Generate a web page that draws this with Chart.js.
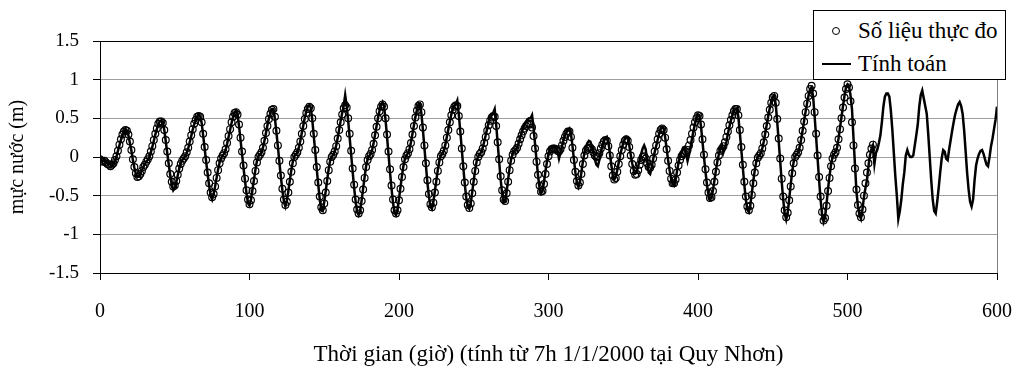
<!DOCTYPE html>
<html lang="vi">
<head>
  <meta charset="UTF-8">
  <title>Mực nước Quy Nhơn</title>
  <script src="https://cdn.jsdelivr.net/npm/chart.js"></script>
  <style>
    body {
      margin: 0;
      background: #fff;
      font-family: 'Liberation Serif', 'Times New Roman', serif;
    }
    .wrap {
      position: relative;
      width: 1017px;
      height: 369px;
    }
    .legend {
      position: absolute;
      left: 813px;
      top: 10px;
      width: 191px;
      height: 68px;
      border: 1px solid #000;
      background: #fff;
      font-size: 23px;
      color: #000;
    }
    .legend .row {
      position: absolute;
      left: 0;
      height: 26px;
      line-height: 26px;
    }
    .legend .mark {
      position: absolute;
      top: 13px;
    }
    .legend .dot {
      left: 18px;
      width: 6px;
      height: 6px;
      margin-top: -4px;
      border: 1.2px solid #000;
      border-radius: 50%;
    }
    .legend .bar {
      left: 8px;
      width: 29px;
      height: 0;
      border-top: 2.5px solid #000;
      margin-top: -1px;
    }
    .legend .txt {
      position: absolute;
      left: 44px;
      white-space: nowrap;
    }
  </style>
</head>
<body>

<div class="wrap">
  <canvas id="tideChart" width="1017" height="369"></canvas>
  <div class="legend">
    <div class="row" style="top: 7px;"><span class="mark dot"></span><span class="txt">Số liệu thực đo</span></div>
    <div class="row" style="top: 40px;"><span class="mark bar"></span><span class="txt">Tính toán</span></div>
  </div>
</div>

<script>
// mực nước tính toán, mỗi giờ một giá trị, từ giờ 0 đến giờ 600
const computedLevel = [
  -0.03,-0.04,-0.05,-0.04,-0.06,-0.08,-0.07,-0.10,-0.12,-0.10,
  -0.05,0.00,0.08,0.15,0.22,0.28,0.32,0.35,0.34,0.28,
  0.18,0.08,-0.04,-0.14,-0.22,-0.26,-0.25,-0.22,-0.17,-0.13,
  -0.09,-0.06,-0.04,0.00,0.06,0.13,0.21,0.29,0.36,0.42,
  0.46,0.47,0.45,0.35,0.20,0.05,-0.10,-0.24,-0.36,-0.43,
  -0.40,-0.33,-0.24,-0.15,-0.08,-0.04,-0.01,0.01,0.05,0.11,
  0.19,0.27,0.35,0.42,0.48,0.52,0.54,0.53,0.44,0.28,
  0.11,-0.06,-0.22,-0.37,-0.50,-0.55,-0.48,-0.38,-0.27,-0.16,
  -0.07,-0.01,0.02,0.04,0.09,0.17,0.26,0.35,0.44,0.52,
  0.58,0.60,0.55,0.40,0.22,0.04,-0.14,-0.31,-0.47,-0.60,
  -0.63,-0.55,-0.42,-0.29,-0.16,-0.05,0.01,0.03,0.06,0.12,
  0.21,0.31,0.41,0.50,0.58,0.62,0.62,0.50,0.32,0.13,
  -0.07,-0.26,-0.43,-0.57,-0.64,-0.57,-0.44,-0.30,-0.17,-0.06,
  0.01,0.03,0.06,0.12,0.21,0.31,0.41,0.51,0.59,0.65,
  0.67,0.64,0.48,0.27,0.06,-0.16,-0.36,-0.55,-0.69,-0.70,
  -0.58,-0.44,-0.29,-0.15,-0.04,0.00,0.03,0.07,0.15,0.25,
  0.36,0.47,0.57,0.66,0.80,0.66,0.47,0.25,0.03,-0.19,
  -0.40,-0.58,-0.71,-0.75,-0.70,-0.56,-0.41,-0.26,-0.12,-0.03,
  0.01,0.04,0.09,0.18,0.29,0.40,0.51,0.60,0.67,0.71,
  0.66,0.48,0.26,0.03,-0.20,-0.41,-0.59,-0.72,-0.75,-0.68,
  -0.54,-0.39,-0.24,-0.11,-0.02,0.02,0.05,0.10,0.19,0.30,
  0.41,0.52,0.61,0.68,0.69,0.56,0.35,0.12,-0.11,-0.33,
  -0.51,-0.64,-0.67,-0.58,-0.44,-0.30,-0.16,-0.05,0.02,0.04,
  0.08,0.16,0.26,0.36,0.46,0.55,0.62,0.66,0.68,0.73,
  0.55,0.33,0.10,-0.13,-0.35,-0.53,-0.64,-0.67,-0.60,-0.45,
  -0.30,-0.16,-0.05,0.01,0.04,0.06,0.12,0.20,0.28,0.37,
  0.45,0.51,0.54,0.57,0.62,0.42,0.18,-0.06,-0.29,-0.48,
  -0.59,-0.58,-0.45,-0.29,-0.14,-0.03,0.04,0.08,0.09,0.12,
  0.18,0.25,0.31,0.37,0.42,0.46,0.49,0.50,0.50,0.54,
  0.38,0.17,-0.04,-0.24,-0.40,-0.47,-0.44,-0.32,-0.18,-0.06,
  0.04,0.11,0.13,0.12,0.13,0.13,0.08,-0.02,0.06,0.14,
  0.22,0.28,0.32,0.35,0.37,0.30,0.15,-0.03,-0.20,-0.34,
  -0.39,-0.33,-0.20,-0.06,0.05,0.13,0.18,0.21,0.20,0.14,
  0.06,-0.03,-0.10,-0.12,-0.04,0.06,0.14,0.20,0.24,0.26,
  0.20,0.06,-0.10,-0.24,-0.29,-0.26,-0.17,-0.07,0.03,0.11,
  0.18,0.23,0.26,0.24,0.15,0.03,-0.08,-0.17,-0.21,-0.19,
  -0.12,-0.04,0.04,0.11,0.15,0.10,-0.05,-0.20,-0.22,-0.14,
  -0.03,0.06,0.14,0.22,0.30,0.36,0.39,0.37,0.26,0.11,
  -0.04,-0.17,-0.28,-0.35,-0.37,-0.30,-0.18,-0.07,0.01,0.07,
  0.12,0.13,0.05,-0.05,0.03,0.13,0.24,0.34,0.43,0.50,
  0.55,0.54,0.40,0.20,0.00,-0.19,-0.36,-0.49,-0.55,-0.53,
  -0.43,-0.30,-0.17,-0.05,0.04,0.12,0.15,0.06,0.12,0.20,
  0.30,0.39,0.47,0.54,0.59,0.62,0.63,0.52,0.31,0.09,
  -0.14,-0.36,-0.55,-0.68,-0.71,-0.62,-0.47,-0.31,-0.17,-0.06,
  0.00,0.02,0.05,0.11,0.20,0.31,0.42,0.53,0.63,0.72,
  0.78,0.80,0.68,0.45,0.20,-0.06,-0.32,-0.55,-0.73,-0.81,
  -0.72,-0.54,-0.36,-0.19,-0.06,0.01,0.03,0.06,0.13,0.23,
  0.35,0.47,0.59,0.70,0.80,0.88,0.90,0.78,0.53,0.26,
  -0.02,-0.30,-0.55,-0.74,-0.84,-0.78,-0.60,-0.41,-0.24,-0.10,
  0.00,0.04,0.06,0.12,0.24,0.38,0.52,0.66,0.79,0.90,
  0.94,0.92,0.80,0.62,0.25,-0.10,-0.45,-0.64,-0.75,-0.80,
  -0.68,-0.52,-0.40,-0.30,-0.12,0.02,0.10,0.15,-0.09,0.05,
  0.10,0.18,0.28,0.45,0.65,0.78,0.82,0.82,0.78,0.60,
  0.35,0.05,-0.25,-0.50,-0.80,-0.70,-0.55,-0.35,-0.20,0.02,
  0.09,0.03,0.00,0.00,0.02,0.15,0.28,0.42,0.65,0.80,
  0.86,0.76,0.66,0.56,0.30,0.00,-0.30,-0.55,-0.70,-0.73,
  -0.58,-0.40,-0.20,-0.02,0.09,0.07,-0.02,-0.04,0.10,0.22,
  0.34,0.45,0.55,0.62,0.68,0.71,0.66,0.56,0.35,0.08,
  -0.20,-0.42,-0.58,-0.64,-0.55,-0.30,-0.11,-0.02,0.04,0.08,
  0.09,0.04,-0.03,-0.10,-0.12,0.00,0.14,0.24,0.36,0.48,
  0.65
];

// số liệu thực đo, mỗi giờ một giá trị, từ giờ 0 đến giờ 517
const observedLevel = [
  -0.03,-0.05,-0.06,-0.05,-0.07,-0.09,-0.10,-0.12,-0.10,-0.08,
  -0.04,0.01,0.08,0.16,0.23,0.29,0.33,0.35,0.34,0.29,
  0.20,0.09,-0.03,-0.13,-0.21,-0.26,-0.25,-0.22,-0.18,-0.13,
  -0.10,-0.06,-0.03,0.01,0.07,0.14,0.22,0.30,0.37,0.43,
  0.46,0.46,0.44,0.35,0.22,0.07,-0.08,-0.22,-0.32,-0.38,
  -0.37,-0.31,-0.23,-0.15,-0.09,-0.05,-0.02,0.01,0.06,0.12,
  0.20,0.28,0.36,0.43,0.48,0.52,0.53,0.52,0.45,0.30,
  0.13,-0.04,-0.20,-0.34,-0.46,-0.52,-0.48,-0.38,-0.27,-0.17,
  -0.08,-0.02,0.02,0.05,0.10,0.18,0.27,0.36,0.45,0.52,
  0.57,0.58,0.55,0.42,0.25,0.07,-0.11,-0.28,-0.43,-0.55,
  -0.61,-0.56,-0.44,-0.31,-0.18,-0.07,0.00,0.03,0.06,0.12,
  0.21,0.31,0.40,0.49,0.56,0.61,0.62,0.52,0.34,0.15,
  -0.05,-0.24,-0.41,-0.55,-0.62,-0.58,-0.46,-0.32,-0.19,-0.08,
  0.00,0.03,0.06,0.12,0.20,0.30,0.40,0.49,0.57,0.62,
  0.65,0.63,0.50,0.30,0.09,-0.13,-0.33,-0.51,-0.65,-0.69,
  -0.60,-0.46,-0.31,-0.17,-0.06,0.00,0.03,0.07,0.14,0.24,
  0.35,0.45,0.55,0.63,0.67,0.64,0.50,0.30,0.08,-0.15,
  -0.36,-0.55,-0.68,-0.73,-0.69,-0.57,-0.42,-0.27,-0.13,-0.04,
  0.01,0.04,0.09,0.17,0.28,0.39,0.50,0.59,0.65,0.68,
  0.65,0.50,0.29,0.07,-0.16,-0.37,-0.55,-0.69,-0.73,-0.69,
  -0.56,-0.41,-0.26,-0.13,-0.03,0.02,0.05,0.10,0.18,0.29,
  0.40,0.51,0.60,0.66,0.68,0.58,0.38,0.15,-0.08,-0.30,
  -0.48,-0.61,-0.65,-0.59,-0.46,-0.32,-0.18,-0.07,0.01,0.04,
  0.08,0.15,0.25,0.35,0.45,0.54,0.61,0.65,0.67,0.66,
  0.53,0.33,0.11,-0.12,-0.33,-0.51,-0.62,-0.66,-0.60,-0.47,
  -0.32,-0.18,-0.07,0.00,0.04,0.06,0.11,0.18,0.26,0.34,
  0.41,0.47,0.51,0.53,0.52,0.40,0.19,-0.03,-0.25,-0.43,
  -0.55,-0.57,-0.47,-0.32,-0.17,-0.05,0.03,0.07,0.09,0.12,
  0.17,0.23,0.28,0.33,0.37,0.40,0.42,0.43,0.42,0.38,
  0.27,0.11,-0.06,-0.23,-0.37,-0.45,-0.44,-0.35,-0.22,-0.09,
  0.01,0.07,0.10,0.11,0.11,0.10,0.08,0.07,0.10,0.15,
  0.21,0.26,0.30,0.33,0.33,0.26,0.12,-0.04,-0.19,-0.31,
  -0.37,-0.33,-0.22,-0.09,0.02,0.08,0.11,0.12,0.12,0.10,
  0.06,0.02,0.00,0.01,0.05,0.11,0.16,0.20,0.22,0.21,
  0.14,0.02,-0.12,-0.24,-0.29,-0.27,-0.19,-0.09,0.01,0.09,
  0.16,0.21,0.23,0.21,0.13,0.02,-0.09,-0.18,-0.23,-0.22,
  -0.17,-0.10,-0.04,0.00,0.01,-0.02,-0.08,-0.13,-0.14,-0.10,
  -0.02,0.07,0.15,0.23,0.30,0.35,0.37,0.35,0.25,0.10,
  -0.05,-0.18,-0.28,-0.34,-0.34,-0.29,-0.20,-0.11,-0.04,0.01,
  0.04,0.05,0.06,0.09,0.15,0.22,0.30,0.38,0.45,0.50,
  0.54,0.53,0.42,0.23,0.03,-0.16,-0.33,-0.46,-0.53,-0.52,
  -0.44,-0.32,-0.19,-0.07,0.02,0.08,0.11,0.14,0.19,0.26,
  0.33,0.41,0.48,0.54,0.59,0.62,0.62,0.54,0.35,0.13,
  -0.10,-0.32,-0.51,-0.64,-0.69,-0.63,-0.49,-0.34,-0.20,-0.08,
  -0.01,0.02,0.05,0.11,0.19,0.29,0.40,0.51,0.61,0.70,
  0.77,0.79,0.70,0.49,0.24,-0.02,-0.28,-0.51,-0.69,-0.78,
  -0.72,-0.56,-0.38,-0.21,-0.08,0.00,0.03,0.06,0.12,0.22,
  0.34,0.46,0.58,0.69,0.79,0.88,0.92,0.82,0.58,0.30,
  0.02,-0.26,-0.51,-0.71,-0.82,-0.79,-0.63,-0.44,-0.27,-0.12,
  -0.02,0.03,0.06,0.12,0.23,0.36,0.50,0.64,0.77,0.88,
  0.94,0.90,0.72,0.45,0.15,-0.15,-0.42,-0.62,-0.73,-0.78,
  -0.68,-0.50,-0.34,-0.20,-0.08,0.03,0.11,0.16
];

const startHour = 0;   // giờ đầu tiên (7h 1/1/2000)
const hourStep = 1;    // số liệu theo giờ

const xTitle = 'Thời gian (giờ) (tính từ 7h 1/1/2000 tại Quy Nhơn)';
const yTitle = 'mực nước (m)';

function toPoints(values) {
  return values.map((v, i) => ({ x: startHour + i * hourStep, y: v }));
}

Chart.defaults.font.family = "'Liberation Serif', 'Times New Roman', serif";
Chart.defaults.font.size = 20;
Chart.defaults.color = '#000';

// khung trên và khung phải của vùng vẽ
const frameLines = {
  id: 'frameLines',
  afterDraw(chart) {
    const { ctx, chartArea: a } = chart;
    ctx.save();
    ctx.lineWidth = 1;
    ctx.strokeStyle = '#000';
    ctx.beginPath();
    ctx.moveTo(a.left, a.top + 0.5);
    ctx.lineTo(a.right, a.top + 0.5);
    ctx.stroke();
    ctx.strokeStyle = '#808080';
    ctx.beginPath();
    ctx.moveTo(Math.round(a.right) + 0.5, a.top);
    ctx.lineTo(Math.round(a.right) + 0.5, a.bottom);
    ctx.stroke();
    ctx.restore();
  }
};

new Chart(document.getElementById('tideChart'), {
  type: 'line',
  data: {
    datasets: [
      {
        label: 'Tính toán',
        data: toPoints(computedLevel),
        borderColor: '#000',
        borderWidth: 2.5,
        pointRadius: 0,
        tension: 0,
        fill: false,
        order: 0
      },
      {
        label: 'Số liệu thực đo',
        data: toPoints(observedLevel),
        showLine: false,
        pointStyle: 'circle',
        pointRadius: 3.4,
        pointBorderWidth: 1.2,
        pointBorderColor: '#000',
        pointBackgroundColor: 'rgba(255,255,255,0)',
        order: 1
      }
    ]
  },
  options: {
    responsive: false,
    animation: false,
    layout: { padding: { top: 41, right: 20, left: 0, bottom: 0 } },
    plugins: {
      legend: { display: false },
      tooltip: { enabled: false }
    },
    scales: {
      x: {
        type: 'linear',
        min: 0,
        max: 600,
        afterFit(scale) {
          scale.height = 96;
          scale.paddingLeft = 0;
          scale.paddingRight = 0;
        },
        ticks: { stepSize: 100, padding: 20, maxRotation: 0, font: { size: 20 } },
        grid: {
          drawOnChartArea: false,
          drawTicks: true,
          tickLength: 7,
          tickColor: '#000'
        },
        border: { display: true, color: '#000', width: 1 },
        title: {
          display: true,
          text: xTitle,
          font: { size: 23 },
          padding: { top: 0, bottom: 0 }
        }
      },
      y: {
        min: -1.5,
        max: 1.5,
        afterFit(scale) { scale.width = 100; },
        ticks: {
          stepSize: 0.5,
          padding: 14,
          font: { size: 19 },
          callback: (v) => String(v)
        },
        grid: {
          color: (c) => (c.tick && (c.tick.value === 1.5 || c.tick.value === -1.5)) ? '#000' : '#a0a0a0',
          lineWidth: 1,
          tickLength: 7,
          tickColor: '#000'
        },
        border: { display: true, color: '#000', width: 1 },
        title: {
          display: true,
          text: yTitle,
          font: { size: 20 },
          padding: { top: 6, bottom: 0 }
        }
      }
    }
  },
  plugins: [frameLines]
});
</script>

</body>
</html>
